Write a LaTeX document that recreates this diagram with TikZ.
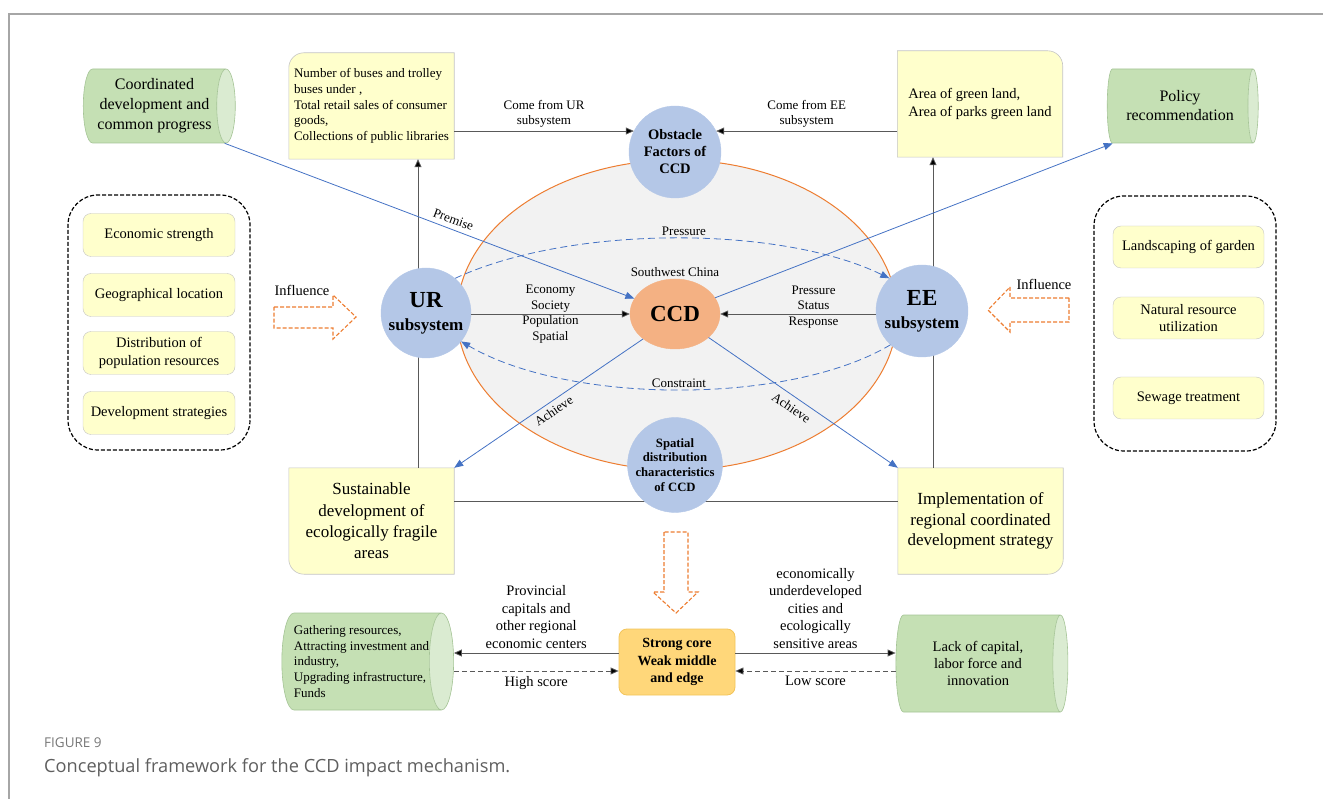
\documentclass[tikz,border=0pt]{standalone}
\usepackage{fontspec}
\setmainfont{Liberation Serif}
\newfontfamily\capfont{Open Sans}
\usetikzlibrary{shapes.geometric,arrows.meta,backgrounds}

\definecolor{boxyellow}{HTML}{FFFFCC}
\definecolor{boxgrey}{HTML}{C4C4C4}
\definecolor{cylbody}{HTML}{C5E0B4}
\definecolor{cylend}{HTML}{DAEBD1}
\definecolor{cylline}{HTML}{A5C496}
\definecolor{circblue}{HTML}{B4C7E7}
\definecolor{ccdorange}{HTML}{F4B183}
\definecolor{ringorange}{HTML}{ED7D31}
\definecolor{linkblue}{HTML}{4472C4}
\definecolor{coregold}{HTML}{FFD77A}
\definecolor{coreline}{HTML}{F2C45A}
\definecolor{framegrey}{HTML}{A6A6A6}
\definecolor{capgrey}{HTML}{5F5F5F}

\tikzset{
  lbl/.style={font=\fontsize{13}{15.7}\selectfont, align=center, inner sep=2pt},
  lblbig/.style={font=\fontsize{14.5}{17.5}\selectfont, align=center, inner sep=2pt},
  bubble/.style={circle, fill=circblue, draw=circblue, minimum size=92pt, inner sep=0pt, align=center},
  item/.style={rectangle, rounded corners=8pt, draw=boxgrey, fill=boxyellow, minimum width=152pt,
    minimum height=43pt, align=center, font=\fontsize{14.5}{17.5}\selectfont},
  group/.style={rectangle, draw, line width=1.2pt, dash pattern=on 4pt off 2pt, rounded corners=30pt,
    minimum width=182pt, minimum height=255pt},
  cornerbox/.style={rectangle, minimum width=165pt, minimum height=106pt, inner sep=0pt},
  boxline/.style={draw=boxgrey, fill=boxyellow, line width=.6pt},
  cyl/.style={cylinder, shape aspect=.34, draw=cylline, line width=.6pt, cylinder uses custom fill,
    cylinder body fill=cylbody, cylinder end fill=cylend, inner sep=0pt},
  conn/.style={draw=black!65, line width=.8pt, -{Triangle[length=8pt,width=7pt,fill=black]}},
  dashconn/.style={conn, dash pattern=on 5pt off 3pt},
  plain/.style={draw=black!65, line width=.8pt},
  bluelink/.style={draw=linkblue, line width=.8pt, -{Triangle[length=9pt,width=7pt]}},
  bluedash/.style={bluelink, dash pattern=on 7pt off 4pt},
  flow/.style={draw=ringorange, line width=1.1pt, dash pattern=on 4pt off 2pt}
}

\begin{document}
\begin{tikzpicture}[x=1pt, y=-1pt]
\useasboundingbox (0,0) rectangle (1323,799);
\draw[framegrey, line width=1.3pt] (9,799) -- (9,14) -- (1323,14);

% central region
\node[ellipse, draw=ringorange, fill=black!5, line width=1pt, minimum width=440pt, minimum height=310pt] (region) at (677,315) {};

% yellow indicator boxes
\node[cornerbox, align=left, font=\fontsize{13}{15.7}\selectfont] (buses) at (371.5,106)
  {Number of buses and trolley\\buses under ,\\Total retail sales of consumer\\goods,\\Collections of public libraries};
\node[cornerbox, align=left, font=\fontsize{14.5}{17.7}\selectfont] (green) at (980,104)
  {Area of green land,\\Area of parks green land};
\node[cornerbox, align=center, font=\fontsize{17}{21.3}\selectfont] (sustain) at (371.5,521)
  {Sustainable\\development of\\ecologically fragile\\areas};
\node[cornerbox, align=center, font=\fontsize{17}{20.7}\selectfont] (implement) at (980.5,521)
  {Implementation of\\regional coordinated\\development strategy};
\begin{scope}[on background layer]
\filldraw[boxline] (buses.south west) -- ([yshift=-15pt]buses.north west) arc[start angle=180, end angle=90, radius=15pt]
  -- (buses.north east) -- (buses.south east) -- cycle;
\filldraw[boxline] (green.south west) -- (green.north west) -- ([xshift=-15pt]green.north east)
  arc[start angle=90, end angle=0, radius=15pt] -- (green.south east) -- cycle;
\filldraw[boxline] (sustain.north west) -- (sustain.north east) -- (sustain.south east)
  -- ([xshift=15pt]sustain.south west) arc[start angle=270, end angle=180, radius=15pt] -- cycle;
\filldraw[boxline] (implement.north west) -- (implement.north east) -- ([yshift=15pt]implement.south east)
  arc[start angle=0, end angle=-90, radius=15pt] -- (implement.south west) -- cycle;
\end{scope}

% frame lines behind the subsystems
\coordinate (urline) at (418,0);
\coordinate (eeline) at (933,0);
\coordinate (spatline) at (0,501);
\draw[conn] (sustain.north -| urline) -- (buses.south -| urline);
\draw[conn] (implement.north -| eeline) -- (green.south -| eeline);
\draw[plain] (sustain.east |- spatline) -- (implement.west |- spatline);

% subsystems
\node[bubble, font=\bfseries\fontsize{14.5}{17}\selectfont] (obst) at (675,152) {Obstacle\\Factors of\\CCD};
\node[bubble, minimum size=90pt, font=\bfseries\fontsize{17}{23}\selectfont] (ur) at (426,313) {{\fontsize{23}{23}\selectfont UR}\\subsystem};
\node[bubble, font=\bfseries\fontsize{17}{23}\selectfont] (ee) at (922,311) {{\fontsize{23}{23}\selectfont EE}\\subsystem};
\node[bubble, font=\bfseries\fontsize{12.7}{14.7}\selectfont] (spat) at (675,465) {Spatial\\distribution\\characteristics\\of CCD};
\node[ellipse, fill=ccdorange, draw=ccdorange, minimum width=90pt, minimum height=70pt, inner sep=0pt,
  font=\bfseries\fontsize{23}{23}\selectfont, label={[lbl]above:Southwest China}] (ccd) at (675,314) {CCD};

% influence groups
\node[group] (urgroup) at (159,322.5) {};
\node[item] (econ) at (159,235) {Economic strength};
\node[item] (geo) at (159,295) {Geographical location};
\node[item] (popu) at (159,353) {Distribution of\\population resources};
\node[item] (strat) at (159,413) {Development strategies};
\node[group] (eegroup) at (1185,323.5) {};
\node[item, minimum width=151pt, minimum height=42pt] (garden) at (1188.5,247) {Landscaping of garden};
\node[item, minimum width=151pt, minimum height=42pt] (natres) at (1188.5,318) {Natural resource\\utilization};
\node[item, minimum width=151pt, minimum height=42pt] (sewage) at (1188.5,398) {Sewage treatment};
\draw[flow] (274,307) -- (333,307) -- (333,295) -- (356,317) -- (333,339) -- (333,328) -- (274,328) -- cycle;
\draw[flow] (1069,298) -- (1010,298) -- (1010,287) -- (988,310) -- (1010,332) -- (1010,322) -- (1069,322) -- cycle;
\node[lblbig] (urinf) at (302,290) {Influence};
\node[lblbig] (eeinf) at (1044,284) {Influence};

% goals
\node[cyl, minimum height=152pt, minimum width=74pt, font=\fontsize{16}{20}\selectfont, align=center] (coord) at (154.5,106)
  {Coordinated\\development and\\common progress};
\node[cyl, minimum height=151pt, minimum width=74pt, font=\fontsize{16}{19}\selectfont, align=center] (policy) at (1180,106)
  {Policy\\recommendation};

% links inside the region
\draw[conn] (buses.east |- obst.153) -- (obst.153) node[lbl, midway, above=1pt] {Come from UR\\subsystem};
\draw[conn] (green.west |- obst.27) -- (obst.27) node[lbl, midway, above=1pt] {Come from EE\\subsystem};
\draw[conn] (ur.east |- ccd.west) -- (ccd.west) node[lbl, midway] {Economy\\Society\\Population\\Spatial};
\draw[conn] (ee.west |- ccd.east) -- (ccd.east) node[lbl, pos=.4, yshift=7pt] {Pressure\\Status\\Response};
\draw[bluedash] (ur.50) .. controls (570,225) and (780,225) .. (ee.135) node[lbl, pos=.52, above] {Pressure};
\draw[bluedash] (ee.227) .. controls (790,405) and (570,405) .. (ur.321) node[lbl, pos=.5, above] {Constraint};
\draw[bluelink] (coord.-28) -- (ccd) node[lbl, pos=.55, above=3pt, sloped] {Premise};
\draw[bluelink] (ccd.22) -- (policy.209);
\draw[bluelink] (ccd.218) -- (sustain.north east) node[lbl, pos=.5, below=2pt, sloped] {Achieve};
\draw[bluelink] (ccd.325) -- (implement.north west) node[lbl, pos=.47, below=4pt, sloped] {Achieve};

% spatial pattern
\draw[flow] (664,532) -- (664,592) -- (653,592) -- (676,613) -- (698,592) -- (688,592) -- (688,532) -- cycle;
\node[rectangle, rounded corners=8pt, fill=coregold, draw=coreline, line width=.8pt, minimum width=116pt,
  minimum height=66pt, align=center, font=\bfseries\fontsize{14}{17.7}\selectfont] (core) at (677,662)
  {Strong core\\Weak middle\\and edge};
\node[cyl, minimum height=171pt, minimum width=97pt, font=\fontsize{13}{15.6}\selectfont, align=left] (gather) at (361.5,661.5)
  {Gathering resources,\\Attracting investment and\\industry,\\Upgrading infrastructure,\\Funds};
\node[cyl, minimum height=172pt, minimum width=97pt, font=\fontsize{14.5}{17}\selectfont, align=center] (lack) at (978,663.5)
  {Lack of capital,\\labor force and\\innovation};
\coordinate (hiline) at (0,653);
\coordinate (loline) at (0,671);
\draw[conn] (core.west |- hiline) -- (gather.east |- hiline)
  node[lblbig, midway, above=2pt] {Provincial\\capitals and\\other regional\\economic centers};
\draw[dashconn] (gather.east |- loline) -- (core.west |- loline) node[lblbig, midway, below=3pt] {High score};
\draw[conn] (core.east |- hiline) -- (lack.west |- hiline)
  node[lblbig, midway, above=2pt] {economically\\underdeveloped\\cities and\\ecologically\\sensitive areas};
\draw[dashconn] (lack.west |- loline) -- (core.east |- loline) node[lblbig, midway, below=3pt] {Low score};

% caption
\node[anchor=west, inner sep=0pt, text=capgrey!85, font=\capfont\fontsize{13.5}{15}\selectfont] (fignum) at (44,743) {FIGURE 9};
\node[anchor=west, inner sep=0pt, text=capgrey, font=\capfont\fontsize{18.2}{21}\selectfont] (figcap) at (44,768)
  {Conceptual framework for the CCD impact mechanism.};
\end{tikzpicture}
\end{document}
